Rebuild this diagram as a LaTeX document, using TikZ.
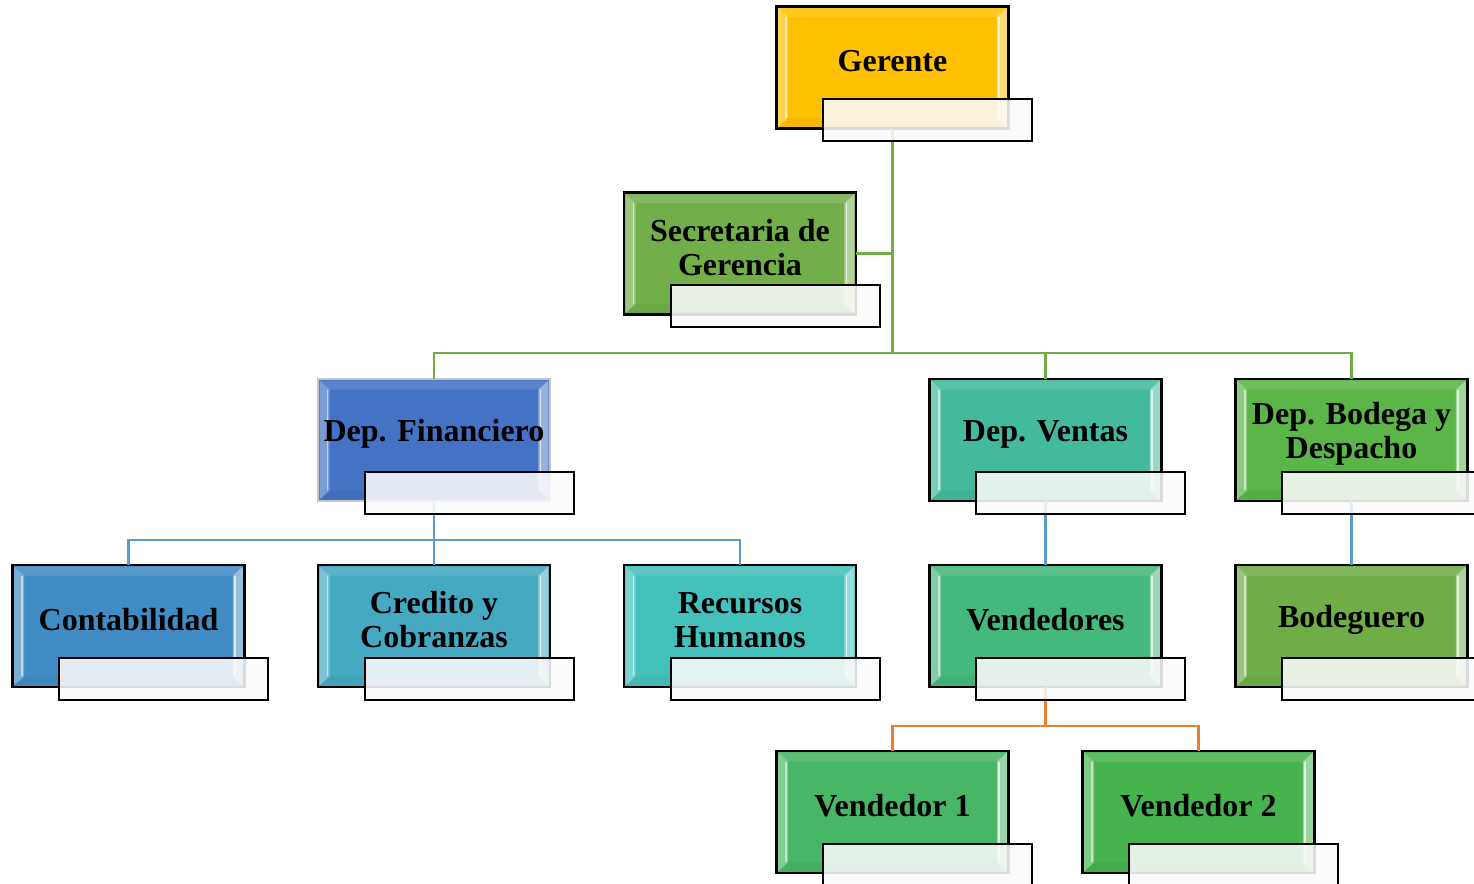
\documentclass[tikz,border=0pt]{standalone}
\usepackage{fontspec}
\setmainfont{Liberation Serif}
\usetikzlibrary{calc}
\definecolor{cger}{HTML}{FFC000}
\definecolor{csec}{HTML}{72AF4A}
\definecolor{cfin}{HTML}{4472C4}
\definecolor{cven}{HTML}{43BA9B}
\definecolor{cbod}{HTML}{5BB548}
\definecolor{ccon}{HTML}{418CC4}
\definecolor{ccre}{HTML}{44A9C1}
\definecolor{crec}{HTML}{45C1BB}
\definecolor{cvds}{HTML}{44B87D}
\definecolor{cbdg}{HTML}{70AD47}
\definecolor{cvu}{HTML}{48B667}
\definecolor{cvd}{HTML}{47B34F}
\definecolor{lineg}{HTML}{70AD47}
\definecolor{lineb}{HTML}{5B9BD5}
\definecolor{lineo}{HTML}{ED7D31}
\tikzset{
  mainbox/.style={rectangle, draw=black, line width=1.3pt, minimum width=173.25pt, minimum height=90.75pt, inner sep=0pt},
  subbox/.style={rectangle, draw=black, line width=1.4pt, fill=white!96!gray, fill opacity=0.88, minimum width=156.75pt, minimum height=31.5pt, inner sep=0pt, anchor=north west},
  lbl/.style={font=\bfseries\fontsize{24}{25.5}\selectfont, align=center, inner sep=0pt, text=black},
  gline/.style={draw=lineg, line width=2pt},
  bline/.style={draw=lineb, line width=2pt},
  oline/.style={draw=lineo, line width=2pt},
}
\newcommand\orgbox[6][black]{%
  \node[mainbox, fill=#5, draw=#1] (#2) at (#3,#4) {};
  \fill[white, opacity=.3] ($(#2.north west)+(2,2)$) -- ($(#2.north west)+(12,11)$) -- ($(#2.south west)+(12,-11)$) -- ($(#2.south west)+(2,-2)$) -- cycle;
  \fill[white, opacity=.45] ($(#2.north east)+(-2,2)$) -- ($(#2.north east)+(-12,11)$) -- ($(#2.south east)+(-12,-11)$) -- ($(#2.south east)+(-2,-2)$) -- cycle;
  \draw[white, opacity=.55, line width=1pt] ($(#2.north west)+(10,11)$) -- ($(#2.south west)+(10,-11)$);
  \draw[white, opacity=.7, line width=1pt] ($(#2.north east)+(-10,11)$) -- ($(#2.south east)+(-10,-11)$);
  \fill[white, opacity=.12] ($(#2.north west)+(2,2)$) -- ($(#2.north west)+(12,11)$) -- ($(#2.north east)+(-12,11)$) -- ($(#2.north east)+(-2,2)$) -- cycle;
  \fill[black, opacity=.04] ($(#2.south west)+(2,-2)$) -- ($(#2.south west)+(12,-11)$) -- ($(#2.south east)+(-12,-11)$) -- ($(#2.south east)+(-2,-2)$) -- cycle;
  \draw[#1, line width=1.3pt] (#2.north west) rectangle (#2.south east);
  \node[lbl] (#2t) at ($(#2.center)+(0,-6)$) {#6};
}
\begin{document}
\begin{tikzpicture}[x=0.75pt, y=-0.75pt]
\useasboundingbox (0,0) rectangle (1474,883);
\clip (0,0) rectangle (1474,883);
\orgbox{ger}{892.5}{67.5}{cger}{Gerente}
\orgbox{sec}{740}{253.5}{csec}{Secretaria de\\Gerencia}
\orgbox[gray!45]{fin}{434}{440}{cfin}{Dep. Financiero}
\orgbox{ven}{1045.5}{440}{cven}{Dep. Ventas}
\orgbox{bod}{1351.5}{440}{cbod}{Dep. Bodega y\\Despacho}
\orgbox{con}{128.5}{626}{ccon}{Contabilidad}
\orgbox{cre}{434}{626}{ccre}{Credito y\\Cobranzas}
\orgbox{rec}{740}{626}{crec}{Recursos\\Humanos}
\orgbox{vds}{1045.5}{626}{cvds}{Vendedores}
\orgbox{bdg}{1351.5}{626}{cbdg}{Bodeguero}
\orgbox{vu}{892.5}{812}{cvu}{Vendedor 1}
\orgbox{vd}{1198.5}{812}{cvd}{Vendedor 2}
% connectors
\coordinate (hg) at (0,353);
\coordinate (hb) at (0,540);
\coordinate (ho) at (0,726);
\coordinate (busg) at (ger.south |- hg);
\coordinate (busb) at (fin.south |- hb);
\coordinate (buso) at (vds.south |- ho);
\draw[gline] (ger.south) -- (busg);
\draw[gline] (sec.east) -- (sec.east -| ger.south);
\draw[gline] (fin.north) |- (busg) -| (bod.north);
\draw[gline] (ven.north) -- (ven.north |- hg);
\draw[bline] (fin.south) -- (busb);
\draw[bline] (con.north) |- (busb) -| (rec.north);
\draw[bline] (busb) -- (cre.north);
\draw[bline] (ven.south) -- (vds.north);
\draw[bline] (bod.south) -- (bdg.north);
\draw[oline] (vds.south) -- (buso);
\draw[oline] (vu.north) |- (buso) -| (vd.north);
% name boxes
\foreach \n in {ger,sec,fin,ven,bod,con,cre,rec,vds,bdg,vu,vd}{
  \node[subbox] (\n s) at ($(\n.north west)+(46,92)$) {};
}
\end{tikzpicture}
\end{document}
